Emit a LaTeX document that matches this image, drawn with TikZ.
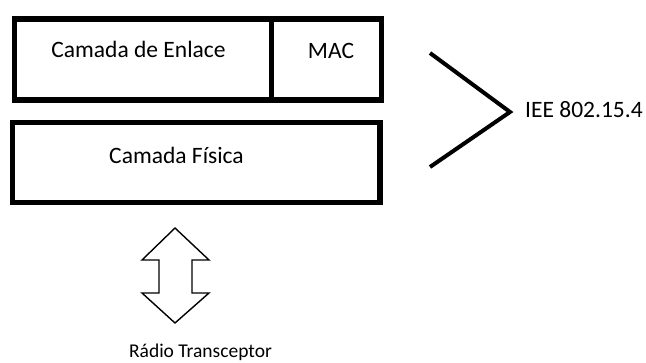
\documentclass[tikz,border=0pt]{standalone}
\usepackage{fontspec}
\setmainfont{Carlito}
\tikzset{
  boxline/.style={draw=black, line width=5.5pt, line join=miter},
  lbl/.style={anchor=base, inner sep=0pt, text=black, font=\fontsize{23.5}{26}\selectfont},
  radiolbl/.style={anchor=base, inner sep=0pt, text=black, font=\fontsize{19.5}{22}\selectfont},
  bracketline/.style={draw=black, line width=4pt, line join=miter},
  dblarrow/.style={draw=black, line width=1.4pt, line join=miter, fill=white}
}
\begin{document}
\begin{tikzpicture}[x=1pt, y=-1pt]
\useasboundingbox[fill=white] (0,0) rectangle (646,363);
% upper box (link layer + MAC)
\coordinate (enlNW) at (14.3,19);
\coordinate (enlSE) at (381.7,100);
\coordinate (divT) at (271.7,19);
\coordinate (divB) at (271.7,100);
\draw[boxline] (enlNW) rectangle (enlSE);
\draw[boxline] (divT) -- (divB);
\node[lbl] (enlace) at (138.5,58) {Camada de Enlace};
\node[lbl] (mac) at (331,58.5) {MAC};
% lower box (physical layer)
\coordinate (fisNW) at (12.7,122.7);
\coordinate (fisSE) at (380,202.7);
\draw[boxline] (fisNW) rectangle (fisSE);
\node[lbl] (fisica) at (176.5,164) {Camada Física};
% bracket
\coordinate (brT) at (430,53);
\coordinate (brM) at (510,112);
\coordinate (brB) at (430,167);
\draw[bracketline] (brT) -- (brM) -- (brB);
\node[lbl, anchor=base west] (iee) at (525,118) {IEE 802.15.4};
% double arrow
\draw[dblarrow] (175,228) -- (209,260) -- (192,260) -- (192,293) -- (209,293)
  -- (175,323) -- (142,293) -- (159,293) -- (159,260) -- (142,260) -- cycle;
\node[radiolbl] (radio) at (200.5,357.5) {Rádio Transceptor};
\end{tikzpicture}
\end{document}
